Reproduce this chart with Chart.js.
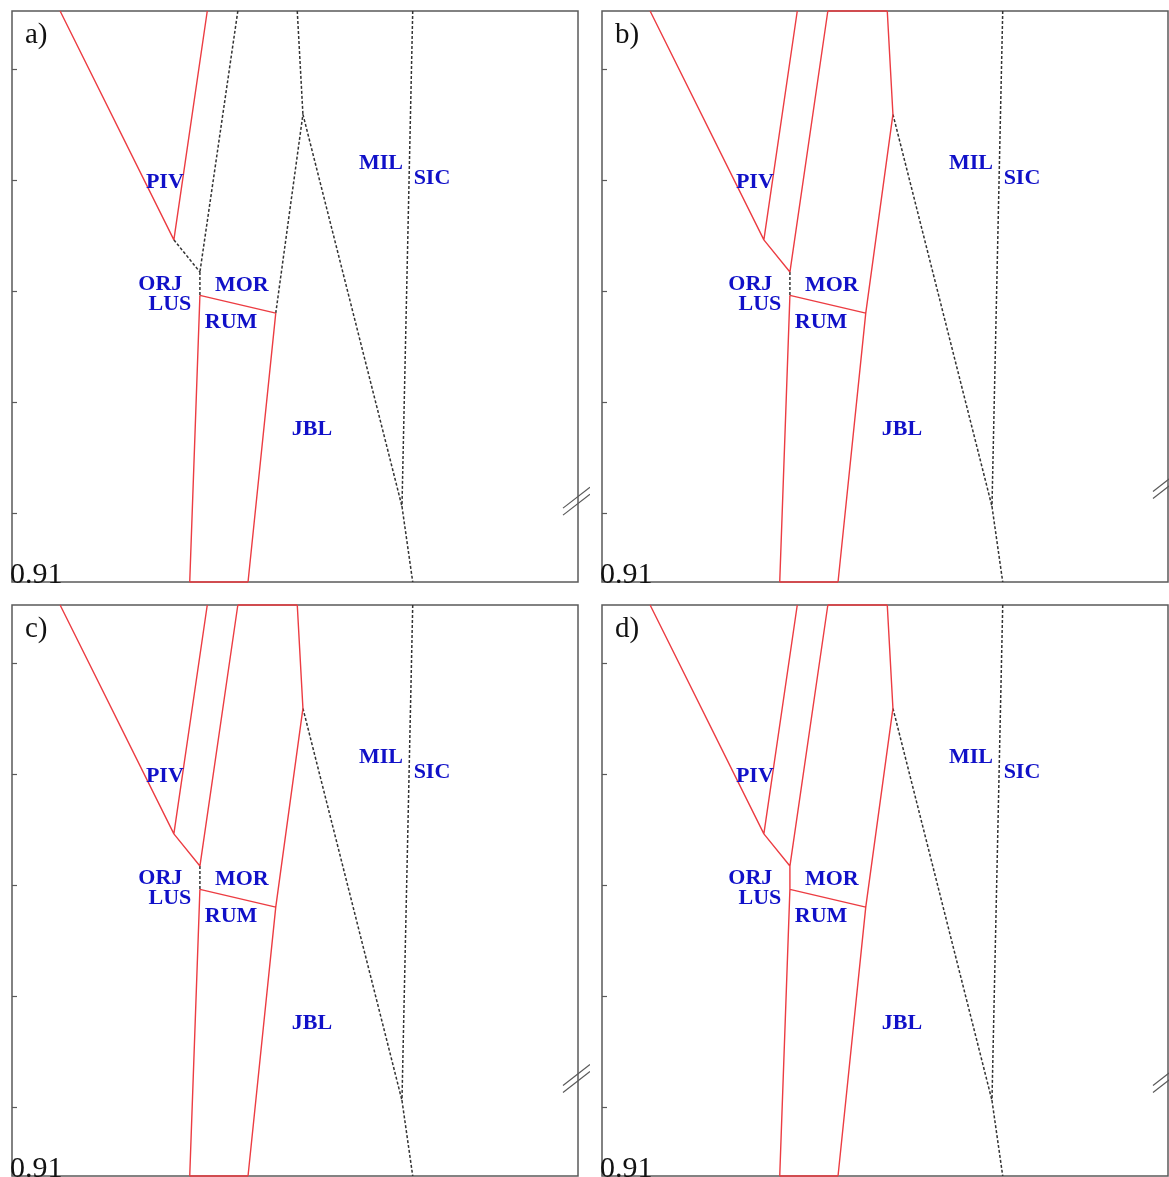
<!DOCTYPE html>
<html>
<head>
<meta charset="utf-8">
<script src="https://cdn.jsdelivr.net/npm/chart.js@4.4.1/dist/chart.umd.min.js"></script>
<style>
    html, body { margin: 0; padding: 0; background: #fff; overflow: hidden; }
    body { width: 1169px; height: 1177px; position: relative; }
    .panel { position: absolute; }
</style>
</head>
<body>
<div class="panel" style="left:0px;top:0px"><canvas id="pa" width="590" height="590"></canvas></div>
<div class="panel" style="left:590px;top:0px"><canvas id="pb" width="590" height="590"></canvas></div>
<div class="panel" style="left:0px;top:594px"><canvas id="pc" width="590" height="590"></canvas></div>
<div class="panel" style="left:590px;top:594px"><canvas id="pd" width="590" height="590"></canvas></div>
<script>
// ---- datos del diagrama de fases (unidades del eje) ----
const X_MIN = 0, X_MAX = 10;
const Y_MIN = -0.62, Y_MAX = 4.52;
const yTicks = [0, 1, 2, 3, 4];
const cornerLabel = '0.91';

// vértices de los límites de fase
const nodeX = [0.85, 2.86, 3.45, 3.32, 3.99, 3.32, 4.66, 3.14, 4.17, 5.04, 5.14, 7.08, 6.89, 7.08];
const nodeY = [4.52, 2.46, 4.52, 2.17, 4.52, 1.96, 1.80, -0.62, -0.62, 4.52, 3.59, 4.52, 0.06, -0.62];

// aristas (pares de vértices)
const edges = [
    [0, 1], [2, 1], [1, 3], [4, 3], [3, 5], [5, 6], [5, 7], [6, 8],
    [7, 8], [6, 10], [9, 10], [4, 9], [10, 12], [11, 12], [12, 13]
];

// estilo de cada arista por panel: r = roja continua, d = discontinua, '' = sin línea
const styleA = ['r', 'r', 'd', 'd', 'd', 'r', 'r', 'r', 'r', 'd', 'd', '',  'd', 'd', 'd'];
const styleB = ['r', 'r', 'r', 'r', 'd', 'r', 'r', 'r', 'r', 'r', 'r', 'r', 'd', 'd', 'd'];
const styleC = ['r', 'r', 'r', 'r', 'd', 'r', 'r', 'r', 'r', 'r', 'r', 'r', 'd', 'd', 'd'];
const styleD = ['r', 'r', 'r', 'r', 'r', 'r', 'r', 'r', 'r', 'r', 'r', 'r', 'd', 'd', 'd'];

const panelLetters = ['a)', 'b)', 'c)', 'd)'];
const breakY = [0.09, 0.24, 0.24, 0.24];

// etiquetas de fases
const phaseNames = ['PIV', 'MIL', 'SIC', 'ORJ', 'LUS', 'MOR', 'RUM', 'JBL'];
const phaseX = [2.70, 6.52, 7.42, 2.62, 2.79, 4.06, 3.87, 5.30];
const phaseY = [2.99, 3.16, 3.03, 2.07, 1.89, 2.06, 1.73, 0.77];

// ---- construcción ----
function buildSeries(styles, key) {
    const pts = [];
    edges.forEach((e, i) => {
        if (styles[i] !== key) return;
        pts.push({ x: nodeX[e[0]], y: nodeY[e[0]] });
        pts.push({ x: nodeX[e[1]], y: nodeY[e[1]] });
        pts.push({ x: nodeX[e[1]], y: null }); // corte
    });
    return pts;
}

const SERIF = '"Liberation Serif", "Times New Roman", serif';

const decor = {
    id: 'decor',
    beforeDatasetsDraw(chart) {
        const { ctx, chartArea: ca, scales } = chart;
        ctx.save();
        ctx.strokeStyle = '#5a5a5a';
        ctx.lineWidth = 1.5;
        ctx.strokeRect(ca.left, ca.top, ca.width, ca.height);
        ctx.lineWidth = 1.2;
        yTicks.forEach(v => {
            const py = Math.round(scales.y.getPixelForValue(v)) + 0.5;
            ctx.beginPath();
            ctx.moveTo(ca.left, py);
            ctx.lineTo(ca.left + 5, py);
            ctx.stroke();
        });
        ctx.restore();
    },
    afterDatasetsDraw(chart, args, opts) {
        const { ctx, chartArea: ca, scales } = chart;
        const idx = opts.idx;
        ctx.save();
        // letra del panel
        ctx.fillStyle = '#111';
        ctx.textAlign = 'left';
        ctx.textBaseline = 'alphabetic';
        ctx.font = '29px ' + SERIF;
        ctx.fillText(panelLetters[idx], ca.left + 13, ca.top + 32);
        ctx.font = '30px ' + SERIF;
        ctx.fillText(cornerLabel, ca.left - 2, ca.bottom + 1);

        // nombres de fases
        ctx.fillStyle = '#1010c8';
        ctx.textAlign = 'center';
        ctx.font = 'bold 22px ' + SERIF;
        phaseNames.forEach((n, i) => {
            const px = scales.x.getPixelForValue(phaseX[i]);
            const py = scales.y.getPixelForValue(phaseY[i]);
            ctx.fillText(n, px, py + 7);
        });

        // marca de corte //
        const by = scales.y.getPixelForValue(breakY[idx]);
        ctx.strokeStyle = '#5a5a5a';
        ctx.lineWidth = 1.2;
        [0, 7].forEach(off => {
            ctx.beginPath();
            ctx.moveTo(ca.right - 15, by + 5 + off);
            ctx.lineTo(ca.right + 12, by - 16 + off);
            ctx.stroke();
        });
        ctx.restore();
    }
};

function makePanel(canvasId, styles, idx) {
    const ctx = document.getElementById(canvasId);
    return new Chart(ctx, {
        type: 'scatter',
        data: {
            datasets: [
                {
                    label: 'fase_red',
                    data: buildSeries(styles, 'r'),
                    showLine: true,
                    spanGaps: false,
                    borderColor: '#ec3c42',
                    borderWidth: 1.4,
                    pointRadius: 0,
                    clip: 4
                },
                {
                    label: 'fase_dash',
                    data: buildSeries(styles, 'd'),
                    showLine: true,
                    spanGaps: false,
                    borderColor: '#333333',
                    borderWidth: 1.5,
                    borderDash: [3, 2],
                    pointRadius: 0,
                    clip: 4
                }
            ]
        },
        options: {
            responsive: false,
            animation: false,
            devicePixelRatio: 1,
            layout: { padding: { left: 12, top: 11, right: 12, bottom: 8 } },
            plugins: {
                legend: { display: false },
                tooltip: { enabled: false },
                decor: { idx: idx }
            },
            scales: {
                x: { type: 'linear', min: X_MIN, max: X_MAX, display: false },
                y: { type: 'linear', min: Y_MIN, max: Y_MAX, display: false }
            }
        },
        plugins: [decor]
    });
}

makePanel('pa', styleA, 0);
makePanel('pb', styleB, 1);
makePanel('pc', styleC, 2);
makePanel('pd', styleD, 3);
</script>
</body>
</html>
